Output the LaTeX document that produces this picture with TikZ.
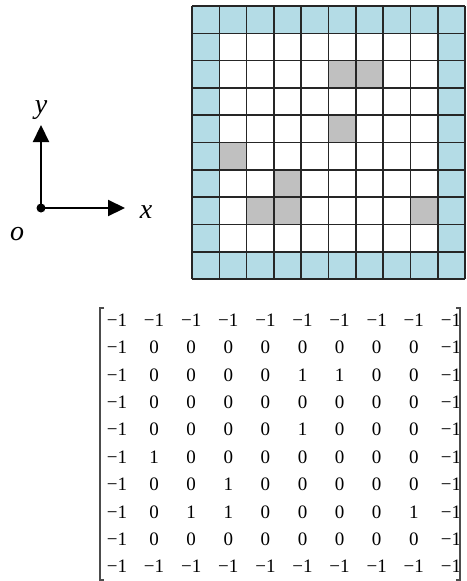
\documentclass[tikz,border=0pt]{standalone}
\usepackage{fontspec}
\setmainfont{Liberation Serif}
\usetikzlibrary{arrows.meta}
\definecolor{cellblue}{RGB}{180,220,230}
\definecolor{cellgray}{RGB}{192,192,192}
\begin{document}
\begin{tikzpicture}[x=1pt,y=-1pt,
  cell/.style={draw=none,minimum size=27.3pt,inner sep=0pt,outer sep=0pt,anchor=north west},
  gridline/.style={line width=1.6pt,draw=black!85},
  entry/.style={font=\fontsize{19}{19}\selectfont,inner sep=0pt,anchor=center},
  axis/.style={line width=2.2pt,-{Triangle[length=17pt,width=16pt]}},
  lbl/.style={font=\fontsize{28}{28}\selectfont\itshape,inner sep=0pt},
  bracketline/.style={line width=1.5pt,draw=black!70}]
\useasboundingbox (0,0) rectangle (466,581);
% grid cells
\foreach \r in {0,...,9}{
  \foreach \c in {0,...,9}{
    \pgfmathtruncatemacro{\border}{(\r==0)||(\r==9)||(\c==0)||(\c==9)}
    \ifnum\border=1
      \node[cell,fill=cellblue] (c-\r-\c) at ({192+\c*27.3},{6+\r*27.3}) {};
    \else
      \node[cell,fill=white] (c-\r-\c) at ({192+\c*27.3},{6+\r*27.3}) {};
    \fi
  }
}
\foreach \c/\r in {5/2,6/2,5/4,1/5,3/6,2/7,3/7,8/7}{
  \node[cell,fill=cellgray] (g-\r-\c) at ({192+\c*27.3},{6+\r*27.3}) {};
}
\foreach \k in {0,...,10}{
  \draw[gridline] ({192+\k*27.3},6) -- ({192+\k*27.3},279);
  \draw[gridline] (192,{6+\k*27.3}) -- (465,{6+\k*27.3});
}
% axes
\coordinate (o) at (41,208);
\coordinate (ytip) at (41,125);
\coordinate (xtip) at (125,208);
\draw[axis] (o) -- (ytip);
\draw[axis] (o) -- (xtip);
\fill (o) circle (4.5pt);
\node[lbl] (ylbl) at (41,110) {y};
\node[lbl] (xlbl) at (146,212) {x};
\node[lbl] (olbl) at (17,234) {o};
% matrix
\foreach \row [count=\r] in {
 {-1,-1,-1,-1,-1,-1,-1,-1,-1,-1},
 {-1,0,0,0,0,0,0,0,0,-1},
 {-1,0,0,0,0,1,1,0,0,-1},
 {-1,0,0,0,0,0,0,0,0,-1},
 {-1,0,0,0,0,1,0,0,0,-1},
 {-1,1,0,0,0,0,0,0,0,-1},
 {-1,0,0,1,0,0,0,0,0,-1},
 {-1,0,1,1,0,0,0,0,1,-1},
 {-1,0,0,0,0,0,0,0,0,-1},
 {-1,-1,-1,-1,-1,-1,-1,-1,-1,-1}}{
  \foreach \v [count=\c] in \row {
    \node[entry] (m-\r-\c) at ({117+(\c-1)*37.1},{320+(\r-1)*27.4}) {\ifnum\v<0 \char"2212 1\else\v\fi};
  }
}
\coordinate (lb1) at (104,308);
\coordinate (lb2) at (100,308);
\coordinate (lb3) at (100,580);
\coordinate (lb4) at (104,580);
\coordinate (rb1) at (456,308);
\coordinate (rb2) at (460,308);
\coordinate (rb3) at (460,580);
\coordinate (rb4) at (456,580);
\draw[bracketline] (lb1) -- (lb2) -- (lb3) -- (lb4);
\draw[bracketline] (rb1) -- (rb2) -- (rb3) -- (rb4);
\end{tikzpicture}
\end{document}
